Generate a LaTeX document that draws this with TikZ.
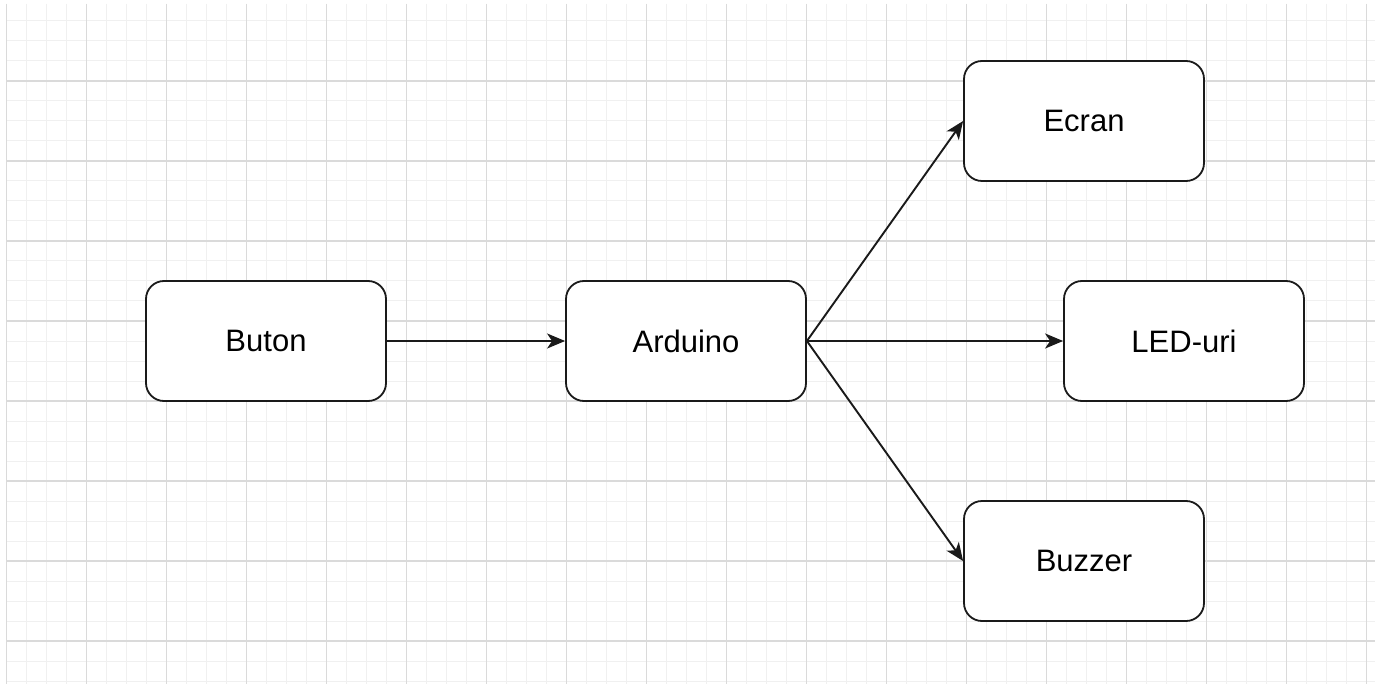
\documentclass[tikz,border=0pt]{standalone}
\usepackage{fontspec}
\setmainfont{Liberation Sans}
\usetikzlibrary{arrows.meta}
\definecolor{minorgrid}{HTML}{F0F0F0}
\definecolor{majorgrid}{HTML}{DADADA}
\definecolor{edge}{HTML}{1A1A1A}
\tikzset{
  minorline/.style={draw=minorgrid, line width=1pt},
  majorline/.style={draw=majorgrid, line width=1.2pt},
  box/.style={draw=edge, fill=white, line width=1.8pt, rounded corners=18pt,
    minimum width=240pt, minimum height=120pt, inner sep=0pt,
    font=\fontsize{31}{36}\selectfont},
  conn/.style={draw=edge, line width=1.9pt, -{Stealth[length=18pt,width=15pt,inset=5pt]}}
}
\begin{document}
\begin{tikzpicture}[x=1pt,y=-1pt]
\useasboundingbox (0,0) rectangle (1375,684);
\fill[white] (0,0) rectangle (1375,684);
% grid
\foreach \i in {0,...,68} {\draw[minorline] ({6.5+20*\i},4) -- ({6.5+20*\i},684);}
\foreach \j in {0,...,33} {\draw[minorline] (6.5,{21+20*\j}) -- (1375,{21+20*\j});}
\foreach \i in {0,...,17} {\draw[majorline] ({6.5+80*\i},4) -- ({6.5+80*\i},684);}
\foreach \j in {0,...,7} {\draw[majorline] (6.5,{81+80*\j}) -- (1375,{81+80*\j});}
% nodes
\node[box] (buton) at (266,341) {Buton};
\node[box] (arduino) at (686,341) {Arduino};
\node[box] (ecran) at (1084,121) {Ecran};
\node[box] (led) at (1184,341) {LED-uri};
\node[box] (buzzer) at (1084,561) {Buzzer};
% connectors
\draw[conn] (buton.east) -- (arduino.west);
\draw[conn] (arduino.east) -- (ecran.west);
\draw[conn] (arduino.east) -- (led.west);
\draw[conn] (arduino.east) -- (buzzer.west);
\end{tikzpicture}
\end{document}
